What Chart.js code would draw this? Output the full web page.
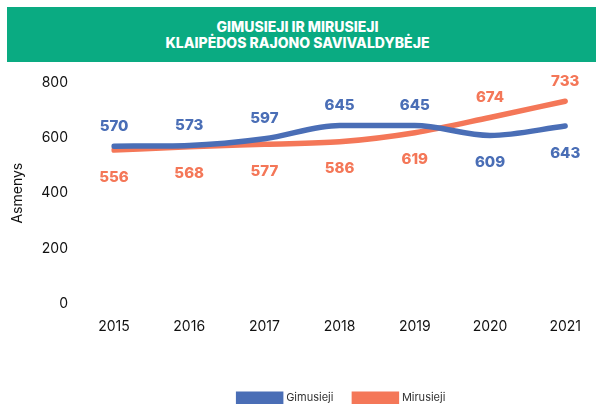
<!DOCTYPE html>
<html>
<head>
<meta charset="utf-8">
<script src="https://cdn.jsdelivr.net/npm/chart.js@4"></script>
<style>
    html, body { margin: 0; padding: 0; background: #fff; }
    #wrap { position: relative; width: 596px; height: 405px; }
    #banner {
        position: absolute; left: 7px; top: 7px; width: 589px; height: 55px;
        background: #0aab82; color: #fff; text-align: center;
        font-family: Inter, sans-serif; font-weight: 800; font-size: 14px;
        line-height: 15.6px; box-sizing: border-box; padding-top: 12px; padding-right: 8px;
    }
    #chart { position: absolute; left: 0; top: 0; }
</style>
</head>
<body>
<div id="wrap">
    <canvas id="chart" width="596" height="405"></canvas>
    <div id="banner">GIMUSIEJI IR MIRUSIEJI<br>KLAIPĖDOS RAJONO SAVIVALDYBĖJE</div>
</div>
<script>
const years = ['2015', '2016', '2017', '2018', '2019', '2020', '2021'];
const gimusieji = [570, 573, 597, 645, 645, 609, 643];
const mirusieji = [556, 568, 577, 586, 619, 674, 733];

const blue = '#4a6eb6';
const orange = '#f47758';

// value labels: the higher series above its line, the lower one below
const valueLabels = {
    id: 'valueLabels',
    afterDatasetsDraw(chart) {
        const ctx = chart.ctx;
        const sets = chart.data.datasets;
        ctx.save();
        ctx.font = '800 15px Inter, sans-serif';
        ctx.textAlign = 'center';
        ctx.textBaseline = 'middle';
        sets.forEach((ds, di) => {
            const meta = chart.getDatasetMeta(di);
            const other = sets[1 - di].data;
            meta.data.forEach((pt, i) => {
                const above = ds.data[i] >= other[i];
                ctx.fillStyle = ds.borderColor;
                ctx.fillText(ds.data[i], pt.x, pt.y + (above ? -20 : 27));
            });
        });
        ctx.restore();
    }
};

// the legend sits right of centre in the original
const shiftLegend = {
    id: 'shiftLegend',
    afterLayout(chart) {
        if (chart.legend) {
            chart.legend.left += 55;
            chart.legend.right += 55;
        }
    }
};

new Chart(document.getElementById('chart'), {
    type: 'line',
    data: {
        labels: years,
        datasets: [
            { label: 'Gimusieji', data: gimusieji, borderColor: blue, backgroundColor: blue },
            { label: 'Mirusieji', data: mirusieji, borderColor: orange, backgroundColor: orange }
        ]
    },
    options: {
        responsive: false,
        animation: false,
        layout: { padding: { top: 82.7, right: 22, bottom: -8.3, left: 0 } },
        elements: {
            line: { borderWidth: 5.5, tension: 0.4, borderCapStyle: 'round', cubicInterpolationMode: 'monotone' },
            point: { radius: 0, hoverRadius: 0 }
        },
        scales: {
            x: {
                offset: false,
                grid: { display: false, drawTicks: false },
                border: { display: false },
                ticks: { color: '#111', font: { family: 'Inter', size: 14 }, padding: 15 },
                afterFit(scale) { scale.height = 67.7; }
            },
            y: {
                min: 0, max: 800,
                grid: { display: false, drawTicks: false },
                border: { display: false },
                ticks: { stepSize: 200, color: '#111', font: { family: 'Inter', size: 14 }, padding: 46 },
                title: { display: true, text: 'Asmenys', color: '#111', font: { family: 'Inter', size: 14 }, padding: 9 },
                afterFit(scale) { scale.width = 114; }
            }
        },
        plugins: {
            legend: {
                position: 'bottom',
                labels: {
                    boxWidth: 42, boxHeight: 7, padding: 21,
                    color: '#333', font: { family: 'Inter', size: 11 }
                }
            },
            tooltip: { enabled: false }
        }
    },
    plugins: [valueLabels, shiftLegend]
});
</script>
</body>
</html>
